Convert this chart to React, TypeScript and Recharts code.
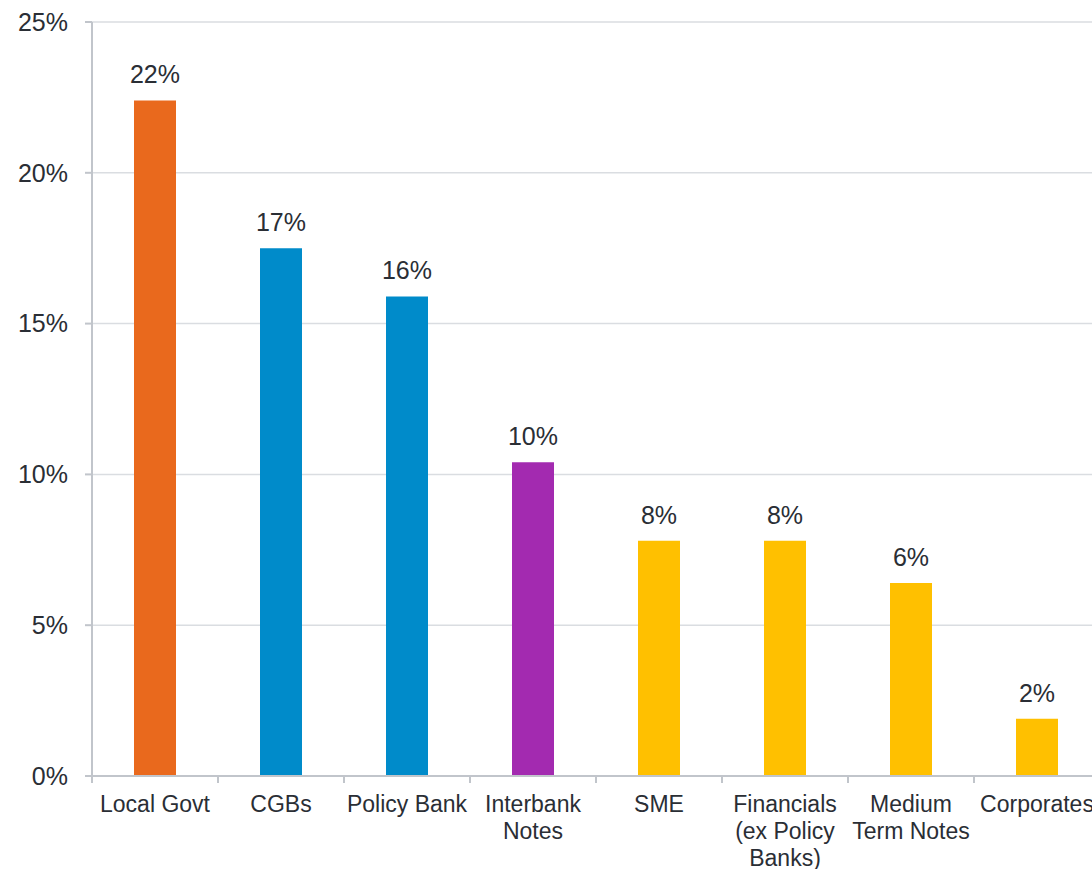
import { BarChart, Bar, XAxis, YAxis, CartesianGrid, Cell, LabelList } from "recharts";

const categories = [
  "Local Govt",
  "CGBs",
  "Policy Bank",
  "Interbank\nNotes",
  "SME",
  "Financials\n(ex Policy\nBanks)",
  "Medium\nTerm Notes",
  "Corporates",
];
const shares = [22.4, 17.5, 15.9, 10.4, 7.8, 7.8, 6.4, 1.9];
const shareLabels = ["22%", "17%", "16%", "10%", "8%", "8%", "6%", "2%"];
const barColors = ["#E9691D", "#008BCA", "#008BCA", "#A32AB0", "#FFC000", "#FFC000", "#FFC000", "#FFC000"];
const yTicks = [0, 5, 10, 15, 20, 25];

const data = categories.map((name, i) => ({ name, share: shares[i], label: shareLabels[i] }));

const WIDTH = 1100;
const HEIGHT = 869;
const Y_AXIS_W = 92;
const BAND = (WIDTH - Y_AXIS_W) / categories.length;
const TEXT = "#2a2e35";
const AXIS = "#c1c5cb";
const FONT = "Liberation Sans, Arial, sans-serif";

function CategoryTick(props: any) {
  const { x, y, payload } = props;
  const lines = String(payload.value).split("\n");
  return (
    <g>
      <line x1={x - BAND / 2} x2={x - BAND / 2} y1={y} y2={y + 7} stroke={AXIS} strokeWidth={2} />
      <text textAnchor="middle" fill={TEXT} fontSize={23} fontFamily={FONT}>
        {lines.map((l, i) => (
          <tspan key={i} x={x} y={y + 36 + i * 27}>
            {l}
          </tspan>
        ))}
      </text>
    </g>
  );
}

export default function App() {
  return (
    <div style={{ position: "absolute", left: 0, top: 0, width: 1092, height: 869, overflow: "hidden", background: "#fff" }}>
      <BarChart width={WIDTH} height={HEIGHT} data={data} margin={{ top: 22, right: 0, bottom: 0, left: 0 }} barCategoryGap={0}>
        <CartesianGrid vertical={false} stroke="#dadde1" strokeWidth={1.5} />
        <XAxis
          dataKey="name"
          height={93}
          interval={0}
          tickSize={0}
          tickMargin={0}
          tickLine={false}
          axisLine={{ stroke: AXIS, strokeWidth: 2 }}
          tick={<CategoryTick />}
        />
        <YAxis
          width={Y_AXIS_W}
          domain={[0, 25]}
          ticks={yTicks}
          interval={0}
          tickFormatter={(v: number) => `${v}%`}
          tickSize={7}
          tickMargin={17}
          tickLine={{ stroke: AXIS, strokeWidth: 2 }}
          axisLine={{ stroke: AXIS, strokeWidth: 2 }}
          tick={{ fill: TEXT, fontSize: 25, fontFamily: FONT }}
        />
        <Bar dataKey="share" barSize={42} isAnimationActive={false}>
          {data.map((d, i) => (
            <Cell key={d.name} fill={barColors[i]} />
          ))}
          <LabelList dataKey="label" position="top" offset={17} fill={TEXT} fontSize={25} fontFamily={FONT} />
        </Bar>
      </BarChart>
    </div>
  );
}
